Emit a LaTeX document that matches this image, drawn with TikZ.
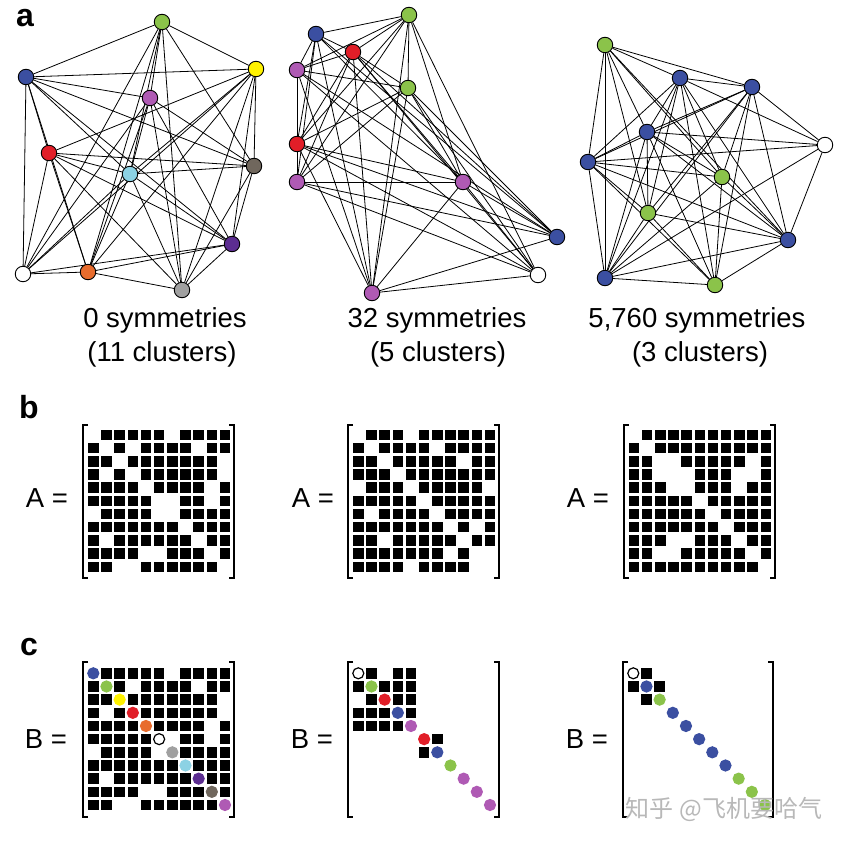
\documentclass[tikz,border=0pt]{standalone}
\usepackage{fontspec}
\setmainfont{Liberation Sans}
\newfontfamily\cjkfont{Noto Sans CJK SC}
\definecolor{nblue}{RGB}{59,79,161}
\definecolor{ngreen}{RGB}{139,195,74}
\definecolor{nyellow}{RGB}{255,242,0}
\definecolor{nred}{RGB}{225,30,40}
\definecolor{norange}{RGB}{232,108,45}
\definecolor{ncyan}{RGB}{140,210,228}
\definecolor{ngrey}{RGB}{160,160,160}
\definecolor{nbrown}{RGB}{112,103,93}
\definecolor{npurple}{RGB}{92,45,145}
\definecolor{nmagenta}{RGB}{175,90,180}
\usetikzlibrary{backgrounds}

% adjacency matrices (rows of A)
\def\adjL{{0,1,1,1,1,1,0,1,1,1,1},{1,0,1,0,1,1,1,1,0,1,1},{1,1,0,1,1,1,1,1,1,1,0},{1,0,1,0,1,1,1,1,1,1,0},{1,1,1,1,0,1,1,1,1,0,1},{1,1,1,1,1,0,0,1,1,0,1},{0,1,1,1,1,0,0,1,1,1,1},{1,1,1,1,1,1,1,0,1,1,1},{1,0,1,1,1,1,1,1,0,1,1},{1,1,1,1,0,0,1,1,1,0,1},{1,1,0,0,1,1,1,1,1,1,0}}
\def\adjM{{0,1,1,1,0,1,1,1,1,1,1},{1,0,1,1,1,1,0,1,1,1,1},{1,1,0,1,1,1,1,1,0,1,1},{1,1,1,0,1,1,1,1,1,1,1},{0,1,1,1,0,1,1,1,1,1,0},{1,1,1,1,1,0,1,1,1,1,1},{1,0,1,1,1,1,0,1,1,1,1},{1,1,1,1,1,1,1,0,1,0,1},{1,1,0,1,1,1,1,1,0,1,1},{1,1,1,1,1,1,1,0,1,0,0},{1,1,1,1,0,1,1,1,1,0,0}}
\def\adjR{{0,1,1,1,1,1,1,1,1,1,1},{1,0,1,1,1,1,1,1,1,1,1},{1,1,0,0,1,1,1,1,1,0,1},{1,1,0,0,0,1,1,1,0,0,1},{1,1,1,0,0,1,1,1,0,1,1},{1,1,1,1,1,0,1,1,1,1,1},{1,1,1,1,1,1,0,1,1,1,1},{1,1,1,1,1,1,1,0,1,1,1},{1,1,1,0,0,1,1,1,0,1,1},{1,1,0,0,1,1,1,1,1,0,1},{1,1,1,1,1,1,1,1,1,1,0}}

% black squares of a matrix: x of col 1, y of row 1, rows
\newcommand{\drawcells}[3]{%
  \foreach \row [count=\i] in #3 {%
    \foreach \v [count=\j] in \row {%
      \ifnum\v=1 \fill ({#1+(\j-1)*13.17-5.2},{#2+(\i-1)*13.17-5.2}) rectangle ++(10.4,10.4);\fi}}}
% square brackets: left x, right x, top y, bottom y
\newcommand{\mbracket}[4]{%
  \draw[brack] ({#1+5},#3) -- (#1,#3) -- (#1,#4) -- ({#1+5},#4);
  \draw[brack] ({#2-5},#3) -- (#2,#3) -- (#2,#4) -- ({#2-5},#4);}

\begin{document}
\begin{tikzpicture}[x=1pt, y=-1pt,
  vtx/.style={circle, draw=black, line width=0.9pt, minimum size=15.5pt, inner sep=0pt},
  link/.style={line width=0.8pt},
  dot/.style={circle, line width=1.2pt, minimum size=11pt, inner sep=0pt},
  brack/.style={line width=2pt},
  lbl/.style={font=\fontsize{27.5}{33}\selectfont, inner sep=0pt, anchor=base},
  panel/.style={font=\fontsize{32}{38}\selectfont\bfseries, inner sep=0pt, anchor=base}]
\useasboundingbox (0,0) rectangle (847,843);

% panel a: the three networks
\node[panel] (pa) at (25,27) {a};
\foreach \c/\x/\y [count=\k] in {nblue/26/77, ngreen/162/22, nyellow/256/69, nred/49/153, norange/88/272, white/23/274, ngrey/182/290, ncyan/130/174, npurple/232/244, nbrown/254/166, nmagenta/150/98}
  \node[vtx, fill=\c] (L\k) at (\x,\y) {};
\foreach \c/\x/\y [count=\k] in {ngreen/409/15, nmagenta/297/70, nmagenta/297/182, nred/353/52, nblue/557/237, nred/297/144, nmagenta/463/182, ngreen/408/88, nmagenta/372/293, nblue/316/34, white/538/275}
  \node[vtx, fill=\c] (M\k) at (\x,\y) {};
\foreach \c/\x/\y [count=\k] in {nblue/680/78, nblue/752/87, ngreen/722/177, white/825/145, ngreen/605/45, nblue/647/132, nblue/588/162, nblue/788/240, ngreen/715/285, ngreen/648/213, nblue/605/278}
  \node[vtx, fill=\c] (R\k) at (\x,\y) {};

\begin{scope}[on background layer]
  \foreach \row [count=\i] in \adjL {\foreach \v [count=\j] in \row {\ifnum\v=1 \ifnum\j>\i \draw[link] (L\i) -- (L\j);\fi\fi}}
  \foreach \row [count=\i] in \adjM {\foreach \v [count=\j] in \row {\ifnum\v=1 \ifnum\j>\i \draw[link] (M\i) -- (M\j);\fi\fi}}
  \foreach \row [count=\i] in \adjR {\foreach \v [count=\j] in \row {\ifnum\v=1 \ifnum\j>\i \draw[link] (R\i) -- (R\j);\fi\fi}}
\end{scope}

\node[lbl] (symL) at (165,327) {0 symmetries};
\node[lbl] (cluL) at (162,361) {(11 clusters)};
\node[lbl] (symM) at (437,327) {32 symmetries};
\node[lbl] (cluM) at (438,361) {(5 clusters)};
\node[lbl] (symR) at (697,327) {5,760 symmetries};
\node[lbl] (cluR) at (700,361) {(3 clusters)};

% panel b: adjacency matrices
\node[panel] (pb) at (29,418) {b};
\node[lbl] (eqA1) at (47,507) {A =};
\node[lbl] (eqA2) at (313,507) {A =};
\node[lbl] (eqA3) at (588,507) {A =};
\drawcells{93.3}{435}{\adjL}
\drawcells{358.3}{435}{\adjM}
\drawcells{634}{435}{\adjR}
\mbracket{83}{234}{425}{578}
\mbracket{348}{499}{425}{578}
\mbracket{624}{775}{425}{578}

% panel c: transformed matrices
\node[panel] (pc) at (29,655) {c};
\node[lbl] (eqB1) at (46,748) {B =};
\node[lbl] (eqB2) at (312,748) {B =};
\node[lbl] (eqB3) at (587,748) {B =};
\drawcells{93.3}{673.3}{\adjL}
\foreach \i/\j in {1/2,1/4,1/5,2/1,2/3,2/4,2/5,3/2,3/4,3/5,4/1,4/2,4/3,4/5,5/1,5/2,5/3,5/4,6/7,7/6}
  \fill ({358.3+(\j-1)*13.17-5.2},{673.3+(\i-1)*13.17-5.2}) rectangle ++(10.4,10.4);
\foreach \i/\j in {1/2,2/1,2/3,3/2}
  \fill ({633.3+(\j-1)*13.17-5.2},{673.3+(\i-1)*13.17-5.2}) rectangle ++(10.4,10.4);
\foreach \f/\d [count=\k] in {nblue/nblue, ngreen/ngreen, nyellow/nyellow, nred/nred, norange/norange, white/black, ngrey/ngrey, ncyan/ncyan, npurple/npurple, nbrown/nbrown, nmagenta/nmagenta}
  \node[dot, fill=\f, draw=\d] (dL\k) at ({93.3+(\k-1)*13.17},{673.3+(\k-1)*13.17}) {};
\foreach \f/\d [count=\k] in {white/black, ngreen/ngreen, nred/nred, nblue/nblue, nmagenta/nmagenta, nred/nred, nblue/nblue, ngreen/ngreen, nmagenta/nmagenta, nmagenta/nmagenta, nmagenta/nmagenta}
  \node[dot, fill=\f, draw=\d] (dM\k) at ({358.3+(\k-1)*13.17},{673.3+(\k-1)*13.17}) {};
\foreach \f/\d [count=\k] in {white/black, nblue/nblue, ngreen/ngreen, nblue/nblue, nblue/nblue, nblue/nblue, nblue/nblue, nblue/nblue, ngreen/ngreen, ngreen/ngreen, ngreen/ngreen}
  \node[dot, fill=\f, draw=\d] (dR\k) at ({633.3+(\k-1)*13.17},{673.3+(\k-1)*13.17}) {};
\mbracket{83}{234}{662}{817}
\mbracket{348}{499}{662}{817}
\mbracket{623}{773}{662}{817}

\node[font=\cjkfont\fontsize{24}{29}\selectfont, text=black!28, inner sep=0pt, anchor=base] (mark) at (724,817) {知乎 @飞机要哈气};
\end{tikzpicture}
\end{document}
